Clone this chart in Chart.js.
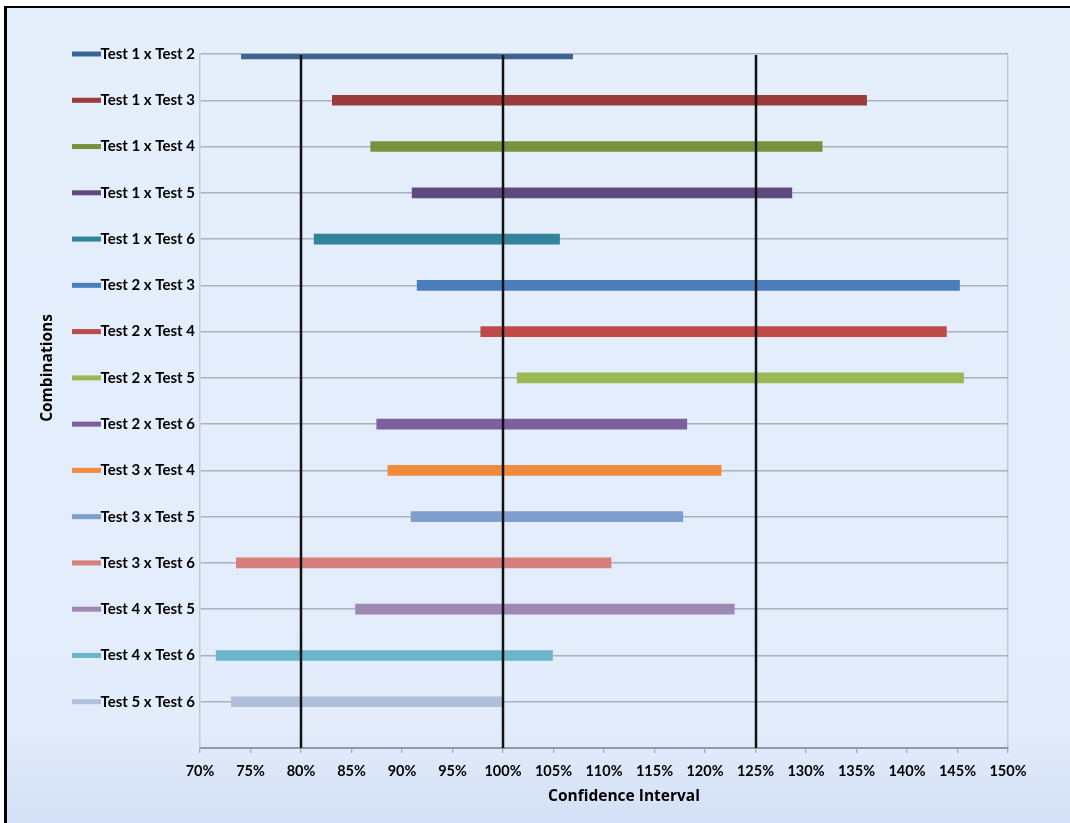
<!DOCTYPE html>
<html>
<head>
<meta charset="utf-8">
<script src="https://cdn.jsdelivr.net/npm/chart.js@4/dist/chart.umd.min.js"></script>
<style>
  html, body { margin: 0; padding: 0; background: #ffffff; }
  #frame {
    position: absolute; left: 4px; top: 6px; width: 1063px; height: 815px;
    border-left: 3px solid #000; border-top: 2px solid #000;
    background: linear-gradient(to bottom, #e5eefb 0%, #e3ecfa 88%, #dbe6f8 94%, #d3e0f6 100%);
  }
  #wrap { position: absolute; left: 0; top: 0; width: 1070px; height: 823px; }
</style>
</head>
<body>
<div id="frame"></div>
<div id="wrap"><canvas id="c" width="1070" height="823"></canvas></div>
<script>
// Pairwise test combinations and their confidence interval bounds (%)
const combinations = [
  'Test 1 x Test 2', 'Test 1 x Test 3', 'Test 1 x Test 4', 'Test 1 x Test 5',
  'Test 1 x Test 6', 'Test 2 x Test 3', 'Test 2 x Test 4', 'Test 2 x Test 5',
  'Test 2 x Test 6', 'Test 3 x Test 4', 'Test 3 x Test 5', 'Test 3 x Test 6',
  'Test 4 x Test 5', 'Test 4 x Test 6', 'Test 5 x Test 6'
];
const lowerBound = [74.1, 83.1, 86.9, 91.0, 81.3, 91.5, 97.8, 101.4, 87.5, 88.6, 90.9, 73.6, 85.4, 71.6, 73.1];
const upperBound = [106.9, 136.0, 131.6, 128.6, 105.6, 145.2, 143.9, 145.6, 118.2, 121.6, 117.8, 110.7, 122.9, 104.9, 100.0];
const barColors = [
  '#3d6594', '#9a3b39', '#76933c', '#5f4a7e', '#31849b',
  '#4a7ebb', '#be4b48', '#98b954', '#7d5fa0', '#f08a3c',
  '#7e9ecf', '#d67f7c', '#9d88b4', '#6bb5cb', '#b0c0da'
];
// Acceptance limits drawn as vertical reference lines
const referenceLines = [80, 100, 125];
const xTicks = [70, 75, 80, 85, 90, 95, 100, 105, 110, 115, 120, 125, 130, 135, 140, 145, 150];

const FONT = 'Lato, "Open Sans", sans-serif';
const TITLE_FONT = '"Open Sans", Lato, sans-serif';

// Category slots: one blank slot under the last combination
const yLabels = combinations.concat(['']);
const intervals = lowerBound.map((lo, i) => [lo, upperBound[i]]).concat([null]);

const decorations = {
  id: 'decorations',
  afterDatasetsDraw(chart) {
    const { ctx, chartArea, scales } = chart;
    const x = scales.x, y = scales.y;
    ctx.save();
    // reference lines
    ctx.strokeStyle = '#111111';
    ctx.lineWidth = 2.5;
    referenceLines.forEach(v => {
      const px = Math.round(x.getPixelForValue(v));
      ctx.beginPath();
      ctx.moveTo(px, chartArea.top + 1);
      ctx.lineTo(px, chartArea.bottom);
      ctx.stroke();
    });
    // colour keys beside each category label
    combinations.forEach((name, i) => {
      const py = y.getPixelForValue(i);
      ctx.fillStyle = barColors[i];
      ctx.fillRect(72, py - 2.5, 29, 5);
    });
    // axis titles
    ctx.fillStyle = '#000';
    ctx.font = 'bold 15.5px ' + TITLE_FONT;
    ctx.textAlign = 'center';
    ctx.textBaseline = 'middle';
    ctx.fillText('Confidence Interval', 624, 797);
    ctx.translate(48, 368);
    ctx.rotate(-Math.PI / 2);
    ctx.fillText('Combinations', 0, 0);
    ctx.restore();
  }
};

new Chart(document.getElementById('c'), {
  type: 'bar',
  data: {
    labels: yLabels,
    datasets: [{
      data: intervals,
      backgroundColor: barColors,
      borderWidth: 0,
      barThickness: 10,
      clip: 0
    }]
  },
  options: {
    indexAxis: 'y',
    responsive: false,
    animation: false,
    layout: { padding: { left: 0, top: 54, right: 62, bottom: 0 } },
    plugins: { legend: { display: false }, tooltip: { enabled: false } },
    scales: {
      x: {
        type: 'linear',
        min: 70, max: 150,
        afterBuildTicks: s => { s.ticks = xTicks.map(v => ({ value: v })); },
        afterFit: s => { s.height = 75; },
        border: { display: true, color: '#8f9aa8', width: 2 },
        grid: {
          color: ctx => (ctx.tick && ctx.tick.value === 150) ? '#c2cad6' : 'rgba(0,0,0,0)',
          lineWidth: 1.5,
          drawTicks: true,
          tickLength: 5,
          tickColor: '#8f9aa8',
          tickWidth: 1
        },
        ticks: {
          color: '#000',
          font: { family: FONT, size: 14.5, weight: 'bold' },
          padding: 10,
          maxRotation: 0,
          autoSkip: false,
          callback: v => v + '%'
        }
      },
      y: {
        type: 'category',
        offset: false,
        afterFit: s => { s.width = 200; },
        border: { display: true, color: '#c2cad6', width: 1.5 },
        grid: { color: '#a9b1bc', lineWidth: 1.5, drawTicks: false, offset: false },
        ticks: {
          color: '#000',
          font: { family: FONT, size: 15, weight: 'bold' },
          padding: 5,
          autoSkip: false
        }
      }
    }
  },
  plugins: [decorations]
});
</script>
</body>
</html>
